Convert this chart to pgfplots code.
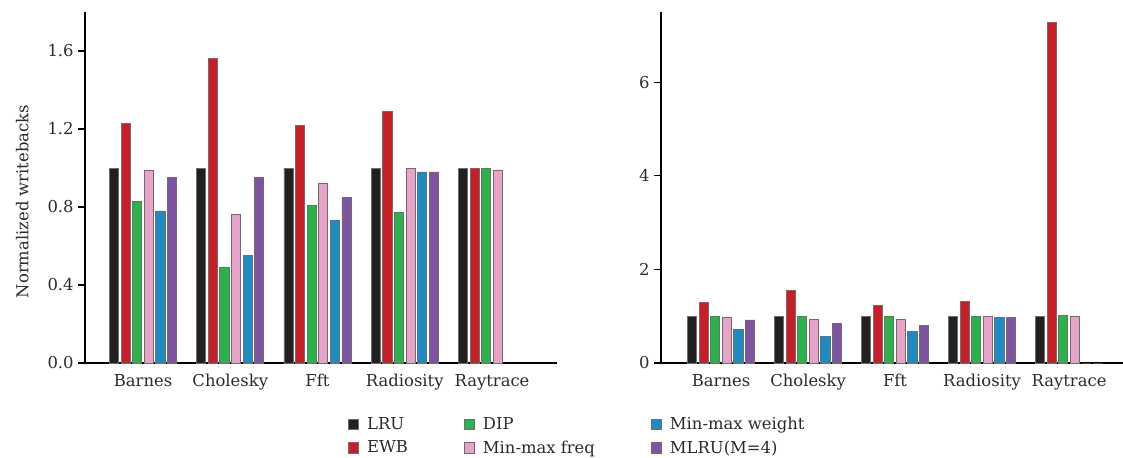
\documentclass[border=0pt]{standalone}
\usepackage{fontspec}
\setmainfont{DejaVu Serif}
\usepackage{pgfplots}
\pgfplotsset{compat=1.18}

\definecolor{cLRU}{HTML}{231F20}
\definecolor{cEWB}{HTML}{C81E28}
\definecolor{cDIP}{HTML}{2AB24B}
\definecolor{cFreq}{HTML}{E8A3C9}
\definecolor{cWeight}{HTML}{1F8BC4}
\definecolor{cMLRU}{HTML}{7E53A2}
\definecolor{cEdge}{HTML}{6E6E6E}
\definecolor{cText}{HTML}{2A2A2A}

\pgfplotsset{
  wb/.style={
    scale only axis,
    ybar,
    bar width=0.105,
    axis x line*=bottom,
    axis y line*=left,
    axis line style={black, line width=0.8pt},
    xtick={0,1,2,3,4},
    xticklabels={Barnes,Cholesky,Fft,Radiosity,Raytrace},
    x tick style={draw=none},
    y tick style={black, line width=0.8pt},
    tick align=outside,
    major tick length=5pt,
    ymin=0,
    font=\fontsize{12.3}{14}\selectfont,
    tick label style={text=cText},
    /pgf/number format/assume math mode=true,
    every axis plot/.append style={draw=cEdge, line width=0.6pt},
    clip=false,
  },
  s1/.style={fill=cLRU, bar shift=-0.3325},
  s2/.style={fill=cEWB, bar shift=-0.1995},
  s3/.style={fill=cDIP, bar shift=-0.0665},
  s4/.style={fill=cFreq, bar shift=0.0665},
  s5/.style={fill=cWeight, bar shift=0.1995},
  s6/.style={fill=cMLRU, bar shift=0.3325},
}

\begin{document}
\begin{tikzpicture}
\path[use as bounding box] (-63.75pt,-70.5pt) rectangle (778.5pt,272.25pt);

% Left panel: writebacks normalised to LRU
\begin{axis}[wb,
  at={(0pt,0pt)}, anchor=south west,
  width=354pt, height=263.25pt,
  xmin=-0.665, xmax=4.745,
  ymax=1.8,
  ytick={0,0.4,0.8,1.2,1.6},
  yticklabel style={/pgf/number format/fixed, /pgf/number format/fixed zerofill, /pgf/number format/precision=1},
  ylabel={Normalized writebacks},
  ylabel style={at={(axis description cs:-0.133,0.46)}, anchor=center, text=cText},
  legend columns=2,
  transpose legend,
  legend cell align=left,
  legend style={at={(axis description cs:0.557,-0.145)}, anchor=north west,
    draw=none, fill=none, inner sep=0pt,
    font=\fontsize{12.3}{14}\selectfont, text=cText,
    row sep=3pt,
    /tikz/every odd column/.append style={column sep=4pt},
    /tikz/every even column/.append style={column sep=40pt}},
  legend image code/.code={\draw[#1, draw=cEdge, line width=0.6pt] (0pt,-3.8pt) rectangle (7.6pt,3.8pt);},
]
\addplot[s1] coordinates {(0,1.00) (1,1.00) (2,1.00) (3,1.00) (4,1.00)};
\addplot[s2] coordinates {(0,1.23) (1,1.56) (2,1.22) (3,1.29) (4,1.00)};
\addplot[s3] coordinates {(0,0.83) (1,0.49) (2,0.81) (3,0.77) (4,1.00)};
\addplot[s4] coordinates {(0,0.99) (1,0.76) (2,0.92) (3,1.00) (4,0.99)};
\addplot[s5] coordinates {(0,0.78) (1,0.55) (2,0.73) (3,0.98)};
\addplot[s6] coordinates {(0,0.95) (1,0.95) (2,0.85) (3,0.98)};
\legend{LRU, EWB, DIP, Min-max freq, Min-max weight, MLRU(M=4)}
\end{axis}

% Right panel
\begin{axis}[wb,
  at={(432pt,0pt)}, anchor=south west,
  width=346.5pt, height=263.25pt,
  xmin=-0.69, xmax=4.62,
  ymax=7.5,
  ytick={0,2,4,6},
]
\addplot[s1] coordinates {(0,1.00) (1,1.00) (2,1.00) (3,1.00) (4,1.00)};
\addplot[s2] coordinates {(0,1.29) (1,1.55) (2,1.23) (3,1.32) (4,7.27)};
\addplot[s3] coordinates {(0,1.00) (1,0.99) (2,1.00) (3,1.00) (4,1.01)};
\addplot[s4] coordinates {(0,0.98) (1,0.94) (2,0.94) (3,1.00) (4,1.00)};
\addplot[s5] coordinates {(0,0.72) (1,0.57) (2,0.68) (3,0.98) (4,0.00)};
\addplot[s6] coordinates {(0,0.92) (1,0.85) (2,0.80) (3,0.98) (4,0.00)};
\end{axis}
\end{tikzpicture}
\end{document}
